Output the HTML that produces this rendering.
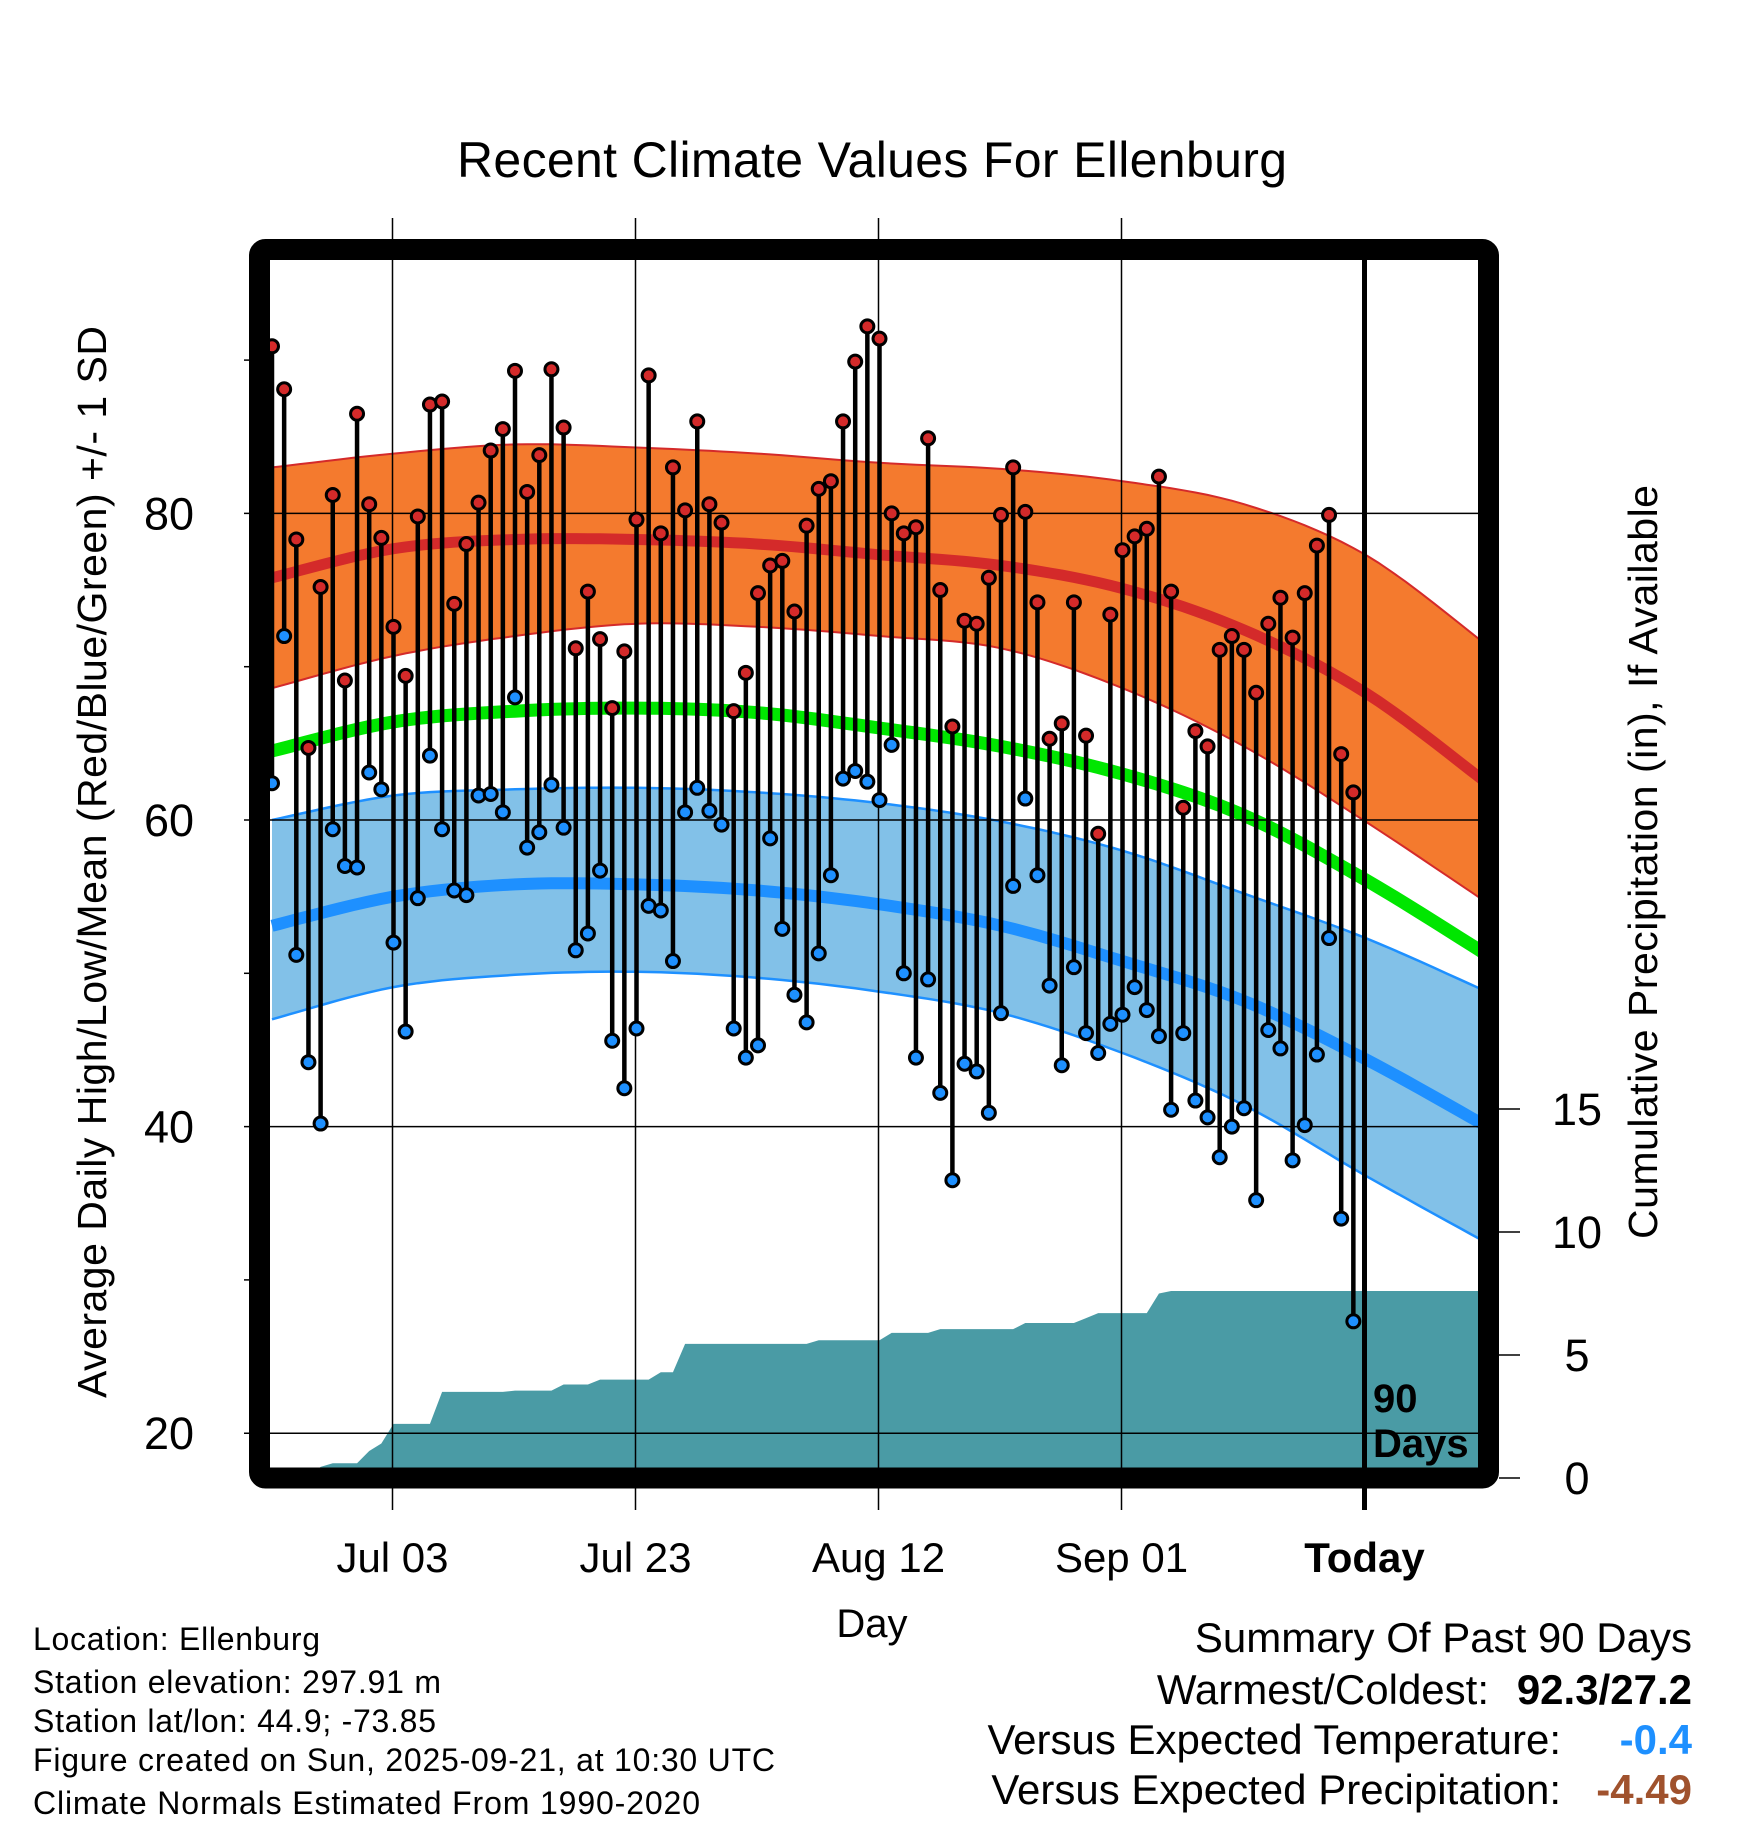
<!DOCTYPE html>
<html><head><meta charset="utf-8">
<style>
html,body{margin:0;padding:0;background:#fff;}
svg{display:block;font-family:"Liberation Sans",Arial,sans-serif;}
</style></head>
<body>
<svg id="chart" width="1748" height="1828" viewBox="0 0 1748 1828">
<g id="bands"></g>
<g id="precip"></g>
<g id="grid"></g>
<g id="marks"></g>
<g id="frame"></g>
<text x="872" y="177" font-size="50" text-anchor="middle" textLength="830">Recent Climate Values For Ellenburg</text>
<text x="872" y="1637" font-size="40" text-anchor="middle">Day</text>
<text transform="translate(106,862) rotate(-90)" font-size="41" text-anchor="middle" textLength="1072">Average Daily High/Low/Mean (Red/Blue/Green) +/- 1 SD</text>
<text transform="translate(1657,862) rotate(-90)" font-size="41" text-anchor="middle" textLength="754">Cumulative Precipitation (in), If Available</text>
<g font-size="32">
<text x="33" y="1650" textLength="287">Location: Ellenburg</text>
<text x="33" y="1693" textLength="408">Station elevation: 297.91 m</text>
<text x="33" y="1732" textLength="403">Station lat/lon: 44.9; -73.85</text>
<text x="33" y="1771" textLength="742">Figure created on Sun, 2025-09-21, at 10:30 UTC</text>
<text x="33" y="1814" textLength="667">Climate Normals Estimated From 1990-2020</text>
</g>
<g font-size="42">
<text x="1692" y="1652" text-anchor="end">Summary Of Past 90 Days</text>
<text x="1489" y="1704" text-anchor="end">Warmest/Coldest:</text>
<text x="1692" y="1704" text-anchor="end" font-weight="bold">92.3/27.2</text>
<text x="1561" y="1754" text-anchor="end">Versus Expected Temperature:</text>
<text x="1692" y="1754" text-anchor="end" font-weight="bold" fill="#1e90ff">-0.4</text>
<text x="1561" y="1804" text-anchor="end">Versus Expected Precipitation:</text>
<text x="1692" y="1804" text-anchor="end" font-weight="bold" fill="#a0522d">-4.49</text>
</g>
</svg>
<script>
const highs=[90.9,88.1,78.3,64.7,75.2,81.2,69.1,86.5,80.6,78.4,72.6,69.4,79.8,87.1,87.3,74.1,78.0,80.7,84.1,85.5,89.3,81.4,83.8,89.4,85.6,71.2,74.9,71.8,67.3,71.0,79.6,89.0,78.7,83.0,80.2,86.0,80.6,79.4,67.1,69.6,74.8,76.6,76.9,73.6,79.2,81.6,82.1,86.0,89.9,92.2,91.4,80.0,78.7,79.1,84.9,75.0,66.1,73.0,72.8,75.8,79.9,83.0,80.1,74.2,65.3,66.3,74.2,65.5,59.1,73.4,77.6,78.5,79.0,82.4,74.9,60.8,65.8,64.8,71.1,72.0,71.1,68.3,72.8,74.5,71.9,74.8,77.9,79.9,64.3,61.8];
const lows=[62.4,72.0,51.2,44.2,40.2,59.4,57.0,56.9,63.1,62.0,52.0,46.2,54.9,64.2,59.4,55.4,55.1,61.6,61.7,60.5,68.0,58.2,59.2,62.3,59.5,51.5,52.6,56.7,45.6,42.5,46.4,54.4,54.1,50.8,60.5,62.1,60.6,59.7,46.4,44.5,45.3,58.8,52.9,48.6,46.8,51.3,56.4,62.7,63.2,62.5,61.3,64.9,50.0,44.5,49.6,42.2,36.5,44.1,43.6,40.9,47.4,55.7,61.4,56.4,49.2,44.0,50.4,46.1,44.8,46.7,47.3,49.1,47.6,45.9,41.1,46.1,41.7,40.6,38.0,40.0,41.2,35.2,46.3,45.1,37.8,40.1,44.7,52.3,34.0,27.3];
const dailyPrecip=[0,0,0,0,0.45,0.15,0,0,0.5,0.3,0.8,0,0,0,1.3,0,0,0,0,0,0.05,0,0,0,0.25,0,0,0.2,0,0,0,0,0.3,0,1.15,0,0,0,0,0,0,0,0,0,0,0.15,0,0,0,0,0,0.3,0,0,0,0.15,0,0,0,0,0,0,0.25,0,0,0,0,0.2,0.2,0,0,0,0,0.8,0.1,0,0,0,0,0,0,0,0,0,0,0,0,0,0,0];
const normDays=[0,10,20,30,40,50,60,70,80,90,100];
const highTop=[83.0,83.9,84.5,84.3,83.9,83.3,82.9,82.1,80.6,77.3,71.4];
const highMean=[75.8,77.7,78.3,78.3,78.0,77.3,76.6,75.1,72.4,68.3,62.4];
const highBot=[68.6,70.7,72.0,72.8,72.6,72.0,71.2,68.6,64.8,59.9,54.6];
const avgMean=[64.5,66.4,67.1,67.3,67.0,66.0,64.8,63.0,60.3,56.1,51.2];
const lowTop=[60.0,61.6,62.0,62.1,61.8,61.1,59.9,58.0,55.2,52.3,48.8];
const lowMean=[53.1,55.0,55.8,55.8,55.4,54.5,53.1,50.8,48.2,44.4,40.0];
const lowBot=[47.0,49.1,49.9,50.1,49.7,48.8,47.4,44.8,41.4,36.8,32.4];
const tempTicks=[20,40,60,80];
const tempMinor=[30,50,70,90];
const precipTicks=[0,5,10,15];
const dateLabels=["Jul 03","Jul 23","Aug 12","Sep 01","Today"];
const dateDays=[10,30,50,70,90];

const NS="http://www.w3.org/2000/svg";
const L=270,R=1478,T=260,B=1468;
const xS=d=>272+d*12.15;
const yT=v=>820-(v-60)*15.33;
const yP=p=>1478-p*24.6;
function mk(parent,tag,attrs){const e=document.createElementNS(NS,tag);for(const k in attrs)e.setAttribute(k,attrs[k]);parent.appendChild(e);return e;}

// smooth curve through knots (Catmull-Rom) -> list of [x,y]
function curve(arr){
  const pts=normDays.map((d,i)=>[xS(d),yT(arr[i])]);
  const out=[];
  for(let i=0;i<pts.length-1;i++){
    const p0=pts[Math.max(0,i-1)],p1=pts[i],p2=pts[i+1],p3=pts[Math.min(pts.length-1,i+2)];
    for(let s=0;s<10;s++){
      const t=s/10,t2=t*t,t3=t2*t;
      const f=(a,b,c,d)=>0.5*((2*b)+(-a+c)*t+(2*a-5*b+4*c-d)*t2+(-a+3*b-3*c+d)*t3);
      out.push([f(p0[0],p1[0],p2[0],p3[0]),f(p0[1],p1[1],p2[1],p3[1])]);
    }
  }
  out.push(pts[pts.length-1]);
  return out;
}
const toD=pts=>pts.map((p,i)=>(i?'L':'M')+p[0].toFixed(1)+','+p[1].toFixed(1)).join('');
function bandPath(top,bot){return toD(curve(top).concat(curve(bot).reverse()))+'Z';}
function linePath(arr){return toD(curve(arr));}

const bands=document.getElementById('bands');
const defs=mk(document.getElementById('chart'),'defs',{});
const cp=mk(defs,'clipPath',{id:'pc'});mk(cp,'rect',{x:L,y:T,width:R-L,height:B-T});
bands.setAttribute('clip-path','url(#pc)');
let e;
e=mk(bands,'path',{d:bandPath(highTop,highBot),fill:'#f47a2e'});

e=mk(bands,'path',{d:linePath(highTop),fill:'none',stroke:'#d42a2a','stroke-width':2});

e=mk(bands,'path',{d:linePath(highBot),fill:'none',stroke:'#d42a2a','stroke-width':2});

e=mk(bands,'path',{d:linePath(highMean),fill:'none',stroke:'#d42a2a','stroke-width':11});

e=mk(bands,'path',{d:linePath(avgMean),fill:'none',stroke:'#00e600','stroke-width':13});

e=mk(bands,'path',{d:bandPath(lowTop,lowBot),fill:'#82c1e8'});

e=mk(bands,'path',{d:linePath(lowTop),fill:'none',stroke:'#1e90ff','stroke-width':2.5});

e=mk(bands,'path',{d:linePath(lowBot),fill:'none',stroke:'#1e90ff','stroke-width':2.5});

e=mk(bands,'path',{d:linePath(lowMean),fill:'none',stroke:'#1e90ff','stroke-width':12});


// precip
const pg=document.getElementById('precip');
let cum=0,pp='M'+L+','+yP(0);
dailyPrecip.forEach((v,i)=>{cum+=v;pp+='L'+xS(i)+','+yP(cum);});
pp+='L'+R+','+yP(cum)+'L'+R+','+yP(0)+'Z';
e=mk(pg,'path',{d:pp,fill:'#4a9ba5'});


// grid
const g=document.getElementById('grid');
tempTicks.forEach(v=>{
  e=mk(g,'line',{x1:244,x2:R,y1:yT(v),y2:yT(v),stroke:'#000','stroke-width':1.5});
  
  e=mk(g,'text',{x:169,y:yT(v)+16,'font-size':45,'text-anchor':'middle'});e.textContent=v;
  
});
tempMinor.forEach(v=>{
  e=mk(g,'line',{x1:244,x2:252,y1:yT(v),y2:yT(v),stroke:'#000','stroke-width':1.5});
  
});
precipTicks.forEach(v=>{
  e=mk(g,'line',{x1:1499,x2:1520,y1:yP(v),y2:yP(v),stroke:'#000','stroke-width':1.5});
  
  e=mk(g,'text',{x:1577,y:yP(v)+16,'font-size':45,'text-anchor':'middle'});e.textContent=v;
  
});
dateDays.forEach((d,i)=>{
  const today=i===dateDays.length-1;
  if(!today){
    e=mk(g,'line',{x1:xS(d)-1,x2:xS(d)-1,y1:218,y2:1510,stroke:'#000','stroke-width':1.5});
    
  }
  e=mk(g,'text',{x:xS(d)-1,y:1572,'font-size':42,'text-anchor':'middle','font-weight':today?'bold':'normal'});e.textContent=dateLabels[i];
  
});

// marks
const m=document.getElementById('marks');
highs.forEach((h,i)=>{
  e=mk(m,'line',{x1:xS(i),x2:xS(i),y1:yT(h),y2:yT(lows[i]),stroke:'#000','stroke-width':4.5});
  
});
highs.forEach((h,i)=>{
  e=mk(m,'circle',{cx:xS(i),cy:yT(h),r:6.5,fill:'#d42a2a',stroke:'#000','stroke-width':3});
  
  e=mk(m,'circle',{cx:xS(i),cy:yT(lows[i]),r:6.5,fill:'#1e90ff',stroke:'#000','stroke-width':3});
  
});
e=mk(m,'line',{x1:xS(90)-1,x2:xS(90)-1,y1:T-10,y2:1510,stroke:'#000','stroke-width':5});

e=mk(m,'text',{x:1373,y:1412,'font-size':40,'font-weight':'bold'});e.textContent='90';

e=mk(m,'text',{x:1373,y:1457,'font-size':40,'font-weight':'bold'});e.textContent='Days';


// frame
const f=document.getElementById('frame');
e=mk(f,'rect',{x:259.5,y:249.5,width:1229,height:1228.5,rx:6,fill:'none',stroke:'#000','stroke-width':21});

</script>
</body></html>
